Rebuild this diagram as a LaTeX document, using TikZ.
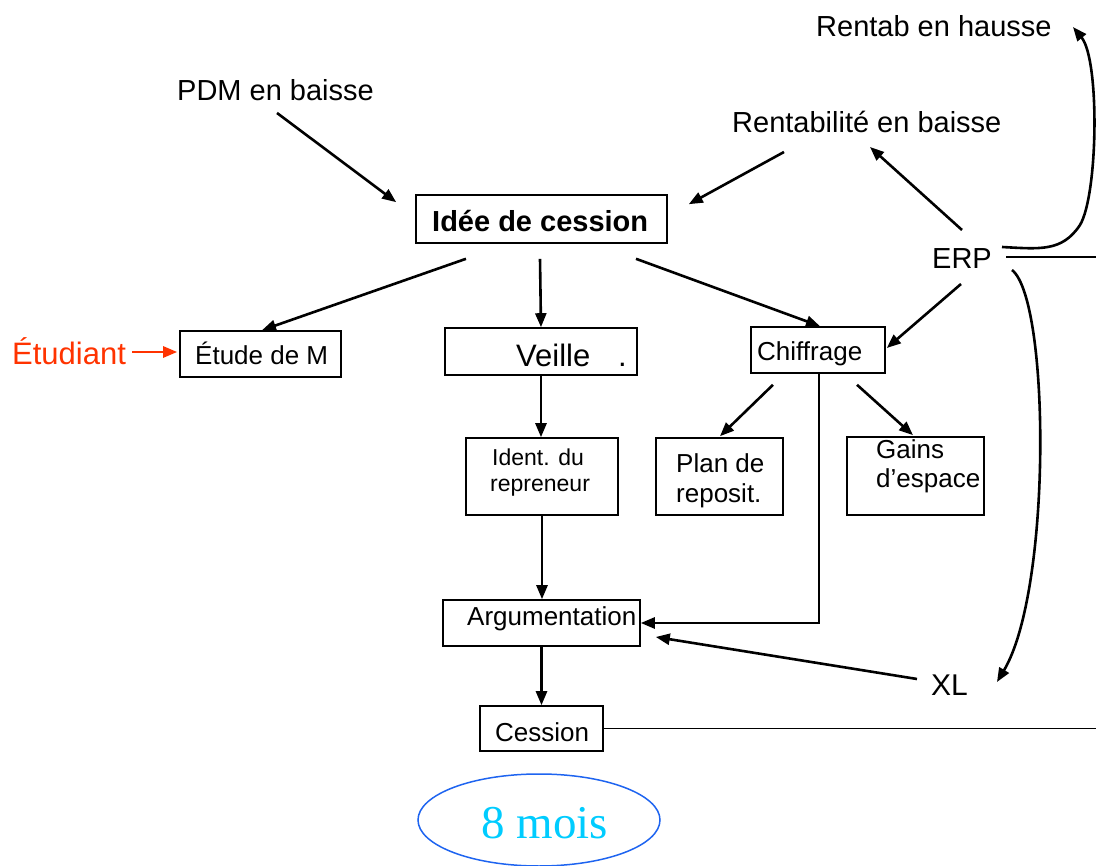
\documentclass[tikz,border=0pt]{standalone}
\usepackage{fontspec}
\setmainfont{Liberation Sans}
\newfontfamily\serifface{Liberation Serif}
\usetikzlibrary{arrows.meta,calc,shapes.geometric}
\definecolor{redO}{RGB}{255,51,0}
\definecolor{cyanT}{RGB}{0,204,255}
\definecolor{blueE}{RGB}{30,100,240}
\begin{document}
\begin{tikzpicture}[x=1pt,y=-1pt,
  txt/.style={inner sep=0pt, anchor=base west},
  fs/.style={font=\fontsize{#1}{#1}\selectfont},
  box/.style={draw, line width=1.6pt, inner sep=0pt},
  arr/.style={line width=2.6pt, -{Triangle[length=14pt,width=11pt]}},
  plain/.style={line width=1.5pt}]
\useasboundingbox (0,0) rectangle (1096,866);

% free text labels
\node[txt, fs=29] (rentH) at (816,37) {Rentab en hausse};
\node[txt, fs=29] (pdm) at (177,101) {PDM en baisse};
\node[txt, fs=29] (rentb) at (732,133) {Rentabilité en baisse};
\node[txt, fs=29] (erp) at (932,269) {ERP};
\node[txt, fs=30] (xl) at (931,695) {XL};
\node[txt, fs=31, text=redO] (etudiant) at (12,365) {Étudiant};

% boxes
\node[box, minimum width=251, minimum height=48] (idee) at (541.5,219) {};
\node[box, minimum width=161, minimum height=46] (etude) at (260.5,354) {};
\node[box, minimum width=192, minimum height=47] (veille) at (541,351.5) {};
\node[box, minimum width=134, minimum height=46] (chiff) at (818,350) {};
\node[box, minimum width=152, minimum height=77] (ident) at (542,476.5) {};
\node[box, minimum width=127, minimum height=77] (plan) at (719.5,476.5) {};
\node[box, minimum width=137, minimum height=78] (gains) at (915.5,476) {};
\node[box, minimum width=197, minimum height=46] (arg) at (541.5,623) {};
\node[box, minimum width=123, minimum height=45] (cess) at (541.5,728.5) {};
\node[draw=blueE, line width=1.5pt, ellipse, inner sep=0pt,
      minimum width=242, minimum height=92] (mois) at (539,820) {};

% box texts
\node[txt, font=\fontsize{29}{29}\selectfont\bfseries] (ideeT) at (432,232) {Idée de cession};
\node[txt, fs=26] (etudeT) at (195,365) {Étude de M};
\node[txt, fs=31] (veilleT) at (516,367) {Veille};
\node[txt, fs=31] (veilleD) at (618,367) {.};
\node[txt, fs=26] (chiffT) at (757,361) {Chiffrage};
\node[txt, fs=23] (identA) at (492,466) {Ident. du};
\node[txt, fs=23] (identB) at (490,492) {repreneur};
\node[txt, fs=26] (planA) at (676,473) {Plan de};
\node[txt, fs=26] (planB) at (676,503) {reposit.};
\node[txt, fs=26] (gainsA) at (876,459) {Gains};
\node[txt, fs=26] (gainsB) at (876,488) {d’espace};
\node[txt, fs=26] (argT) at (467,625) {Argumentation};
\node[txt, fs=26] (cessT) at (495,741) {Cession};
\node[txt, font=\fontsize{47}{47}\selectfont\serifface, text=cyanT] (moisT) at (481,838) {8 mois};

% edge coordinates (lines leaving the picture)
\coordinate (edgeE) at (1096,257);
\coordinate (edgeC) at (1096,728.5);

% connectors
\draw[arr] ($(pdm.base west)+(100,12)$) -- ($(idee.north west)+(-19,8)$);
\draw[arr] ($(rentb.base west)+(52,19)$) -- ($(idee.north east)+(21,10)$);
\draw[arr] ($(idee.south)+(-75.5,15)$) -- ($(etude.north)+(1.5,0)$);
\draw[arr] ($(idee.south)+(-1.5,15)$) -- (veille.north);
\draw[arr] ($(idee.south)+(94.5,15)$) -- ($(chiff.north)+(2,0)$);
\draw[arr] ($(erp.base west)+(30,-39)$) -- ($(rentb.base west)+(138,14)$);
\draw[arr] ($(erp.base west)+(29,15)$) -- ($(chiff.east)+(1,-2)$);
\draw[arr] ($(erp.base west)+(70,-22)$) .. controls (1040,249) and (1062,252) .. (1080,225)
   .. controls (1098,195) and (1100,60) .. ($(rentH.base west)+(257,-10)$);
\draw[arr] ($(erp.base west)+(80,1)$) .. controls (1050,300) and (1052,590) .. ($(xl.base west)+(66,-13)$);
\draw[plain] ($(erp.base west)+(74,-12)$) -- (edgeE);
\draw[arr, draw=redO, fill=redO] ($(etudiant.base west)+(120,-13)$) -- ($(etude.west)+(-2,-2)$);
\draw[arr] (veille.south) -- (veille.south |- ident.north);
\draw[arr] ($(chiff.south)+(-45,11)$) -- ($(plan.north)+(0.5,-1)$);
\draw[arr] ($(chiff.south)+(39,11)$) -- ($(gains.north)+(-2.5,-1)$);
\draw[arr] ($(chiff.south)+(1,0)$) |- (arg.east);
\draw[arr] (ident.south) -- (ident.south |- arg.north);
\draw[arr] ($(xl.base west)+(-14,-16)$) -- ($(arg.east)+(15,14)$);
\draw[arr] (arg.south) -- (arg.south |- cess.north);
\draw[plain] (cess.east) -- (edgeC);
\end{tikzpicture}
\end{document}
